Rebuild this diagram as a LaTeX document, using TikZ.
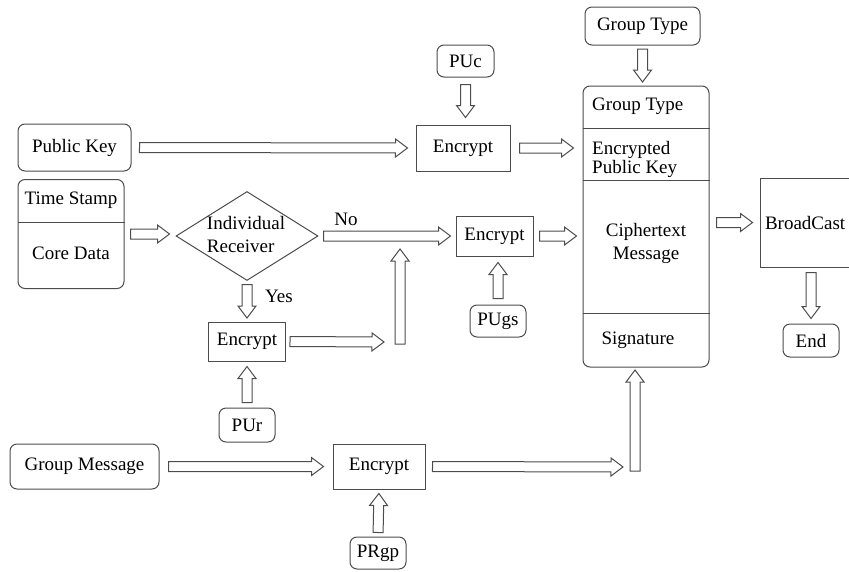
\documentclass[tikz,border=0pt]{standalone}
\usepackage{fontspec}
\setmainfont{LiberationSerif}[Extension=.ttf, UprightFont=*-Regular, BoldFont=*-Bold, ItalicFont=*-Italic, BoldItalicFont=*-BoldItalic]
\usetikzlibrary{calc}
\usetikzlibrary{shapes.geometric}

\tikzset{
  rbox/.style={draw=black!70, line width=1pt, rounded corners=7pt, inner sep=0pt},
  sqbox/.style={draw=black!70, line width=1pt, inner sep=0pt},
  sep/.style={draw=black!70, line width=1pt},
  blk/.style={draw=black!70, line width=1pt,
    to path={let \p1=($(\tikztostart)!#1!(\tikztotarget)$),
                 \p2=($(\tikztotarget)!#1!(\tikztostart)$),
                 \p3=($(\p2)!12pt!(\p1)$) in
      ($(\p1)!5pt!90:(\p2)$) -- ($(\p3)!5pt!90:(\p2)$) -- ($(\p3)!9pt!90:(\p2)$)
      -- (\p2) -- ($(\p3)!9pt!-90:(\p2)$) -- ($(\p3)!5pt!-90:(\p2)$)
      -- ($(\p1)!5pt!-90:(\p2)$) -- cycle}},
  blk/.default=7pt
}

\begin{document}
\begin{tikzpicture}[x=1pt, y=-1pt, font=\rmfamily\fontsize{19}{23}\selectfont]
  \clip (0,0) rectangle (849,571);

  \node[rbox, minimum width=113, minimum height=47] (pubkey) at (74.5,147.5) {Public Key};
  \node[rbox, minimum width=106, minimum height=109] (src) at (71,234) {};
  \node (ts) at (71,200) {Time Stamp};
  \node (core) at (71,253) {Core Data};
  \draw[sep] (src.west |- 0,222) -- (src.east |- 0,222);

  \node[draw=black!70, line width=1pt, diamond, minimum width=142, minimum height=89, inner sep=0pt] (dec) at (247,236) {};
  \node[align=left] (dectxt) at (246,234) {Individual\\Receiver};
  \node (no) at (346,219) {No};
  \node (yes) at (279,296) {Yes};

  \node[sqbox, minimum width=94, minimum height=46] (encC) at (463,148) {Encrypt};
  \node[rbox, minimum width=57, minimum height=32] (puc) at (465.5,61) {PUc};
  \node[sqbox, minimum width=77, minimum height=40] (encM) at (494.5,236) {Encrypt};
  \node[rbox, minimum width=56, minimum height=32] (pugs) at (498,321) {PUgs};
  \node[sqbox, minimum width=77, minimum height=39] (encR) at (247,341.5) {Encrypt};
  \node[rbox, minimum width=56, minimum height=34] (pur) at (247,425) {PUr};
  \node[rbox, minimum width=149, minimum height=45] (gmsg) at (84.5,466.5) {Group Message};
  \node[sqbox, minimum width=92, minimum height=45] (encG) at (379,466.5) {Encrypt};
  \node[rbox, minimum width=56, minimum height=32] (prgp) at (378,553) {PRgp};

  \node[rbox, minimum width=115, minimum height=38] (gtype) at (642.5,26) {Group Type};
  \node[rbox, minimum width=126, minimum height=281] (data) at (646,226.5) {};
  \foreach \y in {128,180,313}
    \draw[sep] (data.west |- 0,\y) -- (data.east |- 0,\y);
  \node[anchor=west, inner sep=0pt] (dgt) at (592,106) {Group Type};
  \node[anchor=west, inner sep=0pt, align=left] (dpk) at (592,159) {Encrypted\\[-4pt]Public Key};
  \node[align=center] (dct) at (646,243) {Ciphertext\\Message};
  \node (dsig) at (638,340) {Signature};

  \node[sqbox, minimum width=110, minimum height=89, text width=100, align=left] (bcast) at (815,222.5) {BroadCast};
  \node[rbox, minimum width=56, minimum height=33] (fin) at (811,340.5) {End};

  \coordinate (rj) at (388,342);
  \coordinate (rup) at (400,344);
  \coordinate (rtop) at (400,249);
  \coordinate (gj) at (630,467);
  \coordinate (gup) at (635,471);
  \coordinate (gtop) at (635,370);

  \path[blk=8pt] (pubkey.east) edge (encC.west);
  \path[blk=6pt] (src.east) edge (dec.west |- src.east);
  \path[blk=5pt] (dec.east) edge (encM.west);
  \path[blk=3.5pt] (dec.south) edge (encR.north);
  \path[blk=5pt] (pur.north) edge (encR.south);
  \path[blk=4pt] (encR.east) edge (rj);
  \path[blk=0pt] (rup) edge (rtop);
  \path[blk=7pt] (puc.south) edge (puc.south |- encC.north);
  \path[blk=9pt] (encC.east) edge (data.west |- encC.east);
  \path[blk=6pt] (pugs.north) edge (pugs.north |- encM.south);
  \path[blk=6pt] (encM.east) edge (data.west |- encM.east);
  \path[blk=3.5pt] (gtype.south) edge (gtype.south |- data.north);
  \path[blk=7pt] (data.east |- bcast.west) edge (bcast.west);
  \path[blk=5pt] (bcast.south -| fin.north) edge (fin.north);
  \path[blk=9pt] (gmsg.east) edge (encG.west);
  \path[blk=4pt] (prgp.north) edge (encG.south);
  \path[blk=7pt] (encG.east) edge (gj);
  \path[blk=0pt] (gup) edge (gtop);
\end{tikzpicture}
\end{document}
